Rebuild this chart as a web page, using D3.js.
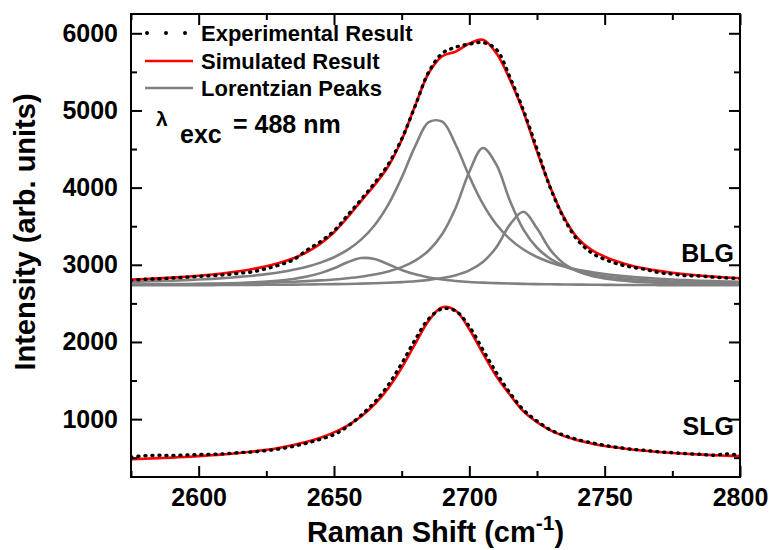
<!DOCTYPE html>
<html><head><meta charset="utf-8">
<script src="https://cdn.jsdelivr.net/npm/d3@7"></script>
<style>body{margin:0;background:#fff}</style>
</head><body>
<svg id="c" width="769" height="550"></svg>
<script>
// ---- data ----
const ramanShift = [2575,2580,2585,2590,2595,2600,2605,2610,2615,2620,2625,2630,2635,2640,2645,2650,2655,2660,2665,2670,2675,2680,2685,2690,2695,2700,2705,2710,2715,2720,2725,2730,2735,2740,2745,2750,2755,2760,2765,2770,2775,2780,2785,2790,2795,2800];

const blgExperimental = [2800,2812,2818,2828,2838,2850,2860,2872,2890,2910,2950,3000,3065,3190,3300,3440,3640,3845,4060,4300,4630,5060,5500,5740,5820,5860,5880,5790,5430,5000,4500,3990,3600,3320,3160,3070,3010,2970,2940,2900,2880,2860,2855,2840,2830,2822];
const blgSimulated = [2808,2816,2824,2834,2845,2858,2874,2893,2916,2945,2980,3026,3085,3165,3274,3422,3613,3826,4034,4274,4617,5064,5485,5703,5763,5867,5915,5740,5400,4980,4470,4000,3610,3345,3196,3105,3039,2989,2951,2921,2897,2878,2861,2847,2836,2826];
const blgPeak1 = [2741,2742,2743,2745,2747,2750,2754,2758,2764,2772,2782,2796,2817,2847,2892,2955,3032,3087,3075,3007,2933,2876,2836,2809,2791,2778,2769,2762,2757,2753,2749,2747,2745,2743,2741,2740,2739,2738,2738,2737,2736,2736,2735,2735,2735,2734];
const blgPeak2 = [2778,2783,2788,2794,2801,2809,2818,2829,2843,2859,2879,2904,2935,2975,3028,3098,3193,3326,3513,3776,4129,4537,4848,4855,4552,4145,3789,3522,3333,3198,3101,3030,2977,2936,2905,2880,2860,2843,2830,2819,2809,2801,2794,2788,2783,2779];
const blgPeak3 = [2745,2746,2748,2749,2751,2753,2755,2758,2761,2765,2769,2774,2780,2788,2798,2810,2826,2846,2874,2913,2970,3054,3186,3400,3743,4206,4514,4297,3829,3456,3221,3076,2984,2923,2881,2851,2829,2813,2800,2790,2782,2775,2770,2765,2762,2758];
const blgPeak4 = [2735,2735,2735,2736,2736,2737,2737,2738,2739,2740,2741,2742,2743,2745,2747,2749,2752,2756,2761,2767,2776,2787,2804,2828,2866,2928,3036,3228,3520,3687,3472,3190,3014,2916,2859,2824,2801,2785,2774,2766,2760,2756,2752,2749,2747,2745];

const slgExperimental = [510,525,532,528,535,540,545,552,566,575,592,615,648,690,740,800,905,1050,1220,1440,1720,2030,2300,2430,2400,2200,1900,1600,1340,1120,975,860,790,735,695,660,632,610,595,576,566,553,545,532,548,530];
const slgSimulated = [481,487,494,501,510,520,532,545,561,580,602,630,664,706,759,828,917,1034,1191,1398,1664,1976,2276,2451,2405,2165,1852,1555,1315,1100,960,855,780,725,685,652,628,607,590,575,562,551,541,533,526,520];

const xMajorTicks = [2600,2650,2700,2750,2800];
const xMinorTicks = [2575,2625,2675,2725,2775];
const yMajorTicks = [1000,2000,3000,4000,5000,6000];
const yMinorTicks = [500,1500,2500,3500,4500,5500];
const legendLabels = ["Experimental Result","Simulated Result","Lorentzian Peaks"];

// ---- layout ----
const L = 131, R = 740, T = 14, B = 477;
const FONT = "'Liberation Sans', Arial, Helvetica, sans-serif";
const svg = d3.select("#c");
const x = d3.scaleLinear().domain([2575, 2800]).range([L, R]);
const y = d3.scaleLinear().domain([250, 6250]).range([B, T]);

svg.append("defs").append("clipPath").attr("id","clip")
  .append("rect").attr("x",L).attr("y",T).attr("width",R-L).attr("height",B-T);

const line = arr => d3.line()
  .x((d,i)=>x(ramanShift[i])).y(d=>y(d))
  .curve(d3.curveCatmullRom.alpha(0.5))(arr);

const plot = svg.append("g").attr("clip-path","url(#clip)");
[blgPeak1, blgPeak2, blgPeak3, blgPeak4].forEach(p => {
  plot.append("path").attr("d", line(p)).attr("fill","none")
    .attr("stroke","#808080").attr("stroke-width",2.6);
});
[blgSimulated, slgSimulated].forEach(s => {
  plot.append("path").attr("d", line(s)).attr("fill","none")
    .attr("stroke","#ff0000").attr("stroke-width",2.6);
});
[blgExperimental, slgExperimental].forEach(s => {
  plot.append("path").attr("d", line(s)).attr("fill","none")
    .attr("stroke","#000").attr("stroke-width",3.4)
    .attr("stroke-dasharray","1,6").attr("stroke-linecap","round");
});

// ---- axes ----
function styleAxis(g){
  g.select(".domain").remove();
  g.selectAll("line").attr("stroke","#000").attr("stroke-width",2);
  g.selectAll("text").attr("font-family",FONT).attr("font-weight","bold")
    .attr("font-size",25).attr("fill","#000");
}
svg.append("g").attr("transform",`translate(0,${B})`)
  .call(d3.axisBottom(x).tickValues(xMajorTicks).tickSize(-11).tickPadding(11).tickFormat(d3.format("d")))
  .call(styleAxis);
svg.append("g").attr("transform",`translate(0,${B})`)
  .call(d3.axisBottom(x).tickValues(xMinorTicks).tickSize(-6).tickFormat(""))
  .call(styleAxis);
svg.append("g").attr("transform",`translate(0,${T})`)
  .call(d3.axisTop(x).tickValues(xMajorTicks).tickSize(-11).tickFormat(""))
  .call(styleAxis);
svg.append("g").attr("transform",`translate(0,${T})`)
  .call(d3.axisTop(x).tickValues(xMinorTicks).tickSize(-6).tickFormat(""))
  .call(styleAxis);
svg.append("g").attr("transform",`translate(${L},0)`)
  .call(d3.axisLeft(y).tickValues(yMajorTicks).tickSize(-11).tickPadding(13).tickFormat(d3.format("d")))
  .call(styleAxis);
svg.append("g").attr("transform",`translate(${L},0)`)
  .call(d3.axisLeft(y).tickValues(yMinorTicks).tickSize(-6).tickFormat(""))
  .call(styleAxis);
svg.append("g").attr("transform",`translate(${R},0)`)
  .call(d3.axisRight(y).tickValues(yMajorTicks).tickSize(-11).tickFormat(""))
  .call(styleAxis);
svg.append("g").attr("transform",`translate(${R},0)`)
  .call(d3.axisRight(y).tickValues(yMinorTicks).tickSize(-6).tickFormat(""))
  .call(styleAxis);

svg.append("rect").attr("x",L).attr("y",T).attr("width",R-L).attr("height",B-T)
  .attr("fill","none").attr("stroke","#000").attr("stroke-width",2);

// ---- axis titles ----
const xt = svg.append("text").attr("x",(L+R)/2).attr("y",542).attr("text-anchor","middle")
  .attr("font-family",FONT).attr("font-weight","bold").attr("font-size",29);
xt.append("tspan").text("Raman Shift (cm");
xt.append("tspan").attr("font-size",21).attr("dy",-12).text("-1");
xt.append("tspan").attr("dy",12).text(")");

svg.append("text").attr("transform","translate(35,232) rotate(-90)").attr("text-anchor","middle")
  .attr("font-family",FONT).attr("font-weight","bold").attr("font-size",29).text("Intensity (arb. units)");

// ---- legend ----
const lg = svg.append("g");
const legendY = [33, 61, 88];
lg.append("line").attr("x1",147).attr("x2",186).attr("y1",legendY[0]).attr("y2",legendY[0])
  .attr("stroke","#000").attr("stroke-width",4).attr("stroke-dasharray","0,19").attr("stroke-linecap","round");
lg.append("line").attr("x1",145).attr("x2",193).attr("y1",legendY[1]).attr("y2",legendY[1])
  .attr("stroke","#ff0000").attr("stroke-width",2.6);
lg.append("line").attr("x1",145).attr("x2",193).attr("y1",legendY[2]).attr("y2",legendY[2])
  .attr("stroke","#808080").attr("stroke-width",2.6);
legendLabels.forEach((t,i)=>{
  lg.append("text").attr("x",201).attr("y",legendY[i]+8).attr("font-family",FONT)
    .attr("font-weight","bold").attr("font-size",22).text(t);
});

// ---- annotations ----
svg.append("text").attr("x",156).attr("y",126).attr("font-family",FONT).attr("font-weight","bold")
  .attr("font-size",21).text("λ");
svg.append("text").attr("x",180).attr("y",143).attr("font-family",FONT).attr("font-weight","bold")
  .attr("font-size",25).text("exc");
svg.append("text").attr("x",233).attr("y",133).attr("font-family",FONT).attr("font-weight","bold")
  .attr("font-size",25).text("= 488 nm");
svg.append("text").attr("x",734).attr("y",262).attr("text-anchor","end").attr("font-family",FONT)
  .attr("font-weight","bold").attr("font-size",25).text("BLG");
svg.append("text").attr("x",734).attr("y",435).attr("text-anchor","end").attr("font-family",FONT)
  .attr("font-weight","bold").attr("font-size",25).text("SLG");
</script>
</body></html>
